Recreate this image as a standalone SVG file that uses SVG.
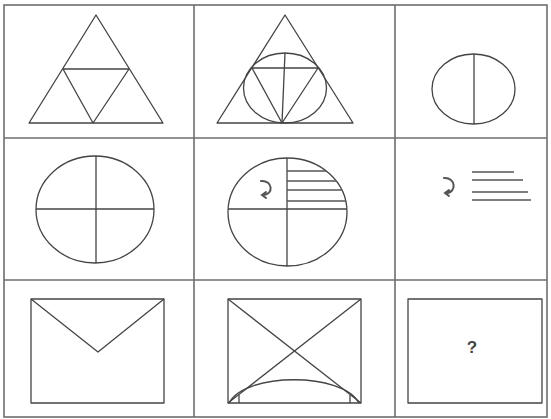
<svg xmlns="http://www.w3.org/2000/svg" width="551" height="419" viewBox="0 0 551 419">
<style>
.grid{fill:none;stroke:#6e6e6e;stroke-width:1.6}
.s{fill:none;stroke:#444;stroke-width:1.3;stroke-linejoin:round}
.h{fill:none;stroke:#555;stroke-width:1.5}
.sym{fill:none;stroke:#555;stroke-width:2;stroke-linecap:round}
.q{font-family:"Liberation Sans",Arial,sans-serif;font-size:17px;font-weight:bold;fill:#444}
</style>
<g id="grid">
<rect class="grid" x="4" y="5" width="543" height="412"/>
<line class="grid" x1="194" y1="5" x2="194" y2="417"/>
<line class="grid" x1="395" y1="5" x2="395" y2="417"/>
<line class="grid" x1="4" y1="138" x2="547" y2="138"/>
<line class="grid" x1="4" y1="280" x2="547" y2="280"/>
</g>
<g id="cell1">
<polygon class="s" points="96,15 29,123 163,123"/>
<polygon class="s" points="63,69 129,69 93,123"/>
</g>
<g id="cell2">
<polygon class="s" points="285,15 217,123 353,123"/>
<ellipse class="s" cx="285" cy="88" rx="41.5" ry="35"/>
<polyline class="s" points="252,68 318,68 282,123 252,68"/>
<line class="s" x1="285" y1="53" x2="282" y2="123"/>
</g>
<g id="cell3">
<ellipse class="s" cx="473.5" cy="89" rx="41.5" ry="35"/>
<line class="s" x1="474" y1="54" x2="474" y2="124"/>
</g>
<g id="cell4">
<ellipse class="s" cx="95" cy="209.5" rx="59" ry="53.5"/>
<line class="s" x1="96" y1="156" x2="96" y2="263"/>
<line class="s" x1="36" y1="209" x2="154" y2="209"/>
</g>
<g id="cell5">
<ellipse class="s" cx="287.5" cy="212" rx="59.5" ry="54"/>
<line class="s" x1="287" y1="158" x2="287" y2="266"/>
<line class="s" x1="228" y1="209" x2="347" y2="209"/>
<line class="h" x1="287" y1="171" x2="326" y2="171"/>
<line class="h" x1="287" y1="181" x2="336" y2="181"/>
<line class="h" x1="287" y1="190" x2="342" y2="190"/>
<line class="h" x1="287" y1="201" x2="346" y2="201"/>
<path class="sym" d="M261,181 C273,180 274,195 263,195 M266,192 L262,195 L266,198"/>
</g>
<g id="cell6">
<path class="sym" d="M444,178 C456,177 457,193 446,193 M449,190 L445,193 L449,196"/>
<line class="h" x1="472" y1="172" x2="514" y2="172"/>
<line class="h" x1="472" y1="180" x2="523" y2="180"/>
<line class="h" x1="472" y1="192" x2="528" y2="192"/>
<line class="h" x1="472" y1="200" x2="531" y2="200"/>
</g>
<g id="cell7">
<rect class="s" x="31" y="299" width="133" height="104"/>
<polyline class="s" points="31,299 98,352 164,299"/>
</g>
<g id="cell8">
<rect class="s" x="228" y="299" width="133" height="104"/>
<line class="s" x1="228" y1="299" x2="361" y2="403"/>
<line class="s" x1="361" y1="299" x2="228" y2="403"/>
<path class="s" d="M229,403 C245,372 343,372 359,403"/>
<line class="s" x1="239" y1="395" x2="239" y2="403"/>
<line class="s" x1="350" y1="395" x2="350" y2="403"/>
</g>
<g id="cell9">
<rect class="s" x="408" y="299" width="134" height="104"/>
<text class="q" x="472" y="353" text-anchor="middle">?</text>
</g>
</svg>
